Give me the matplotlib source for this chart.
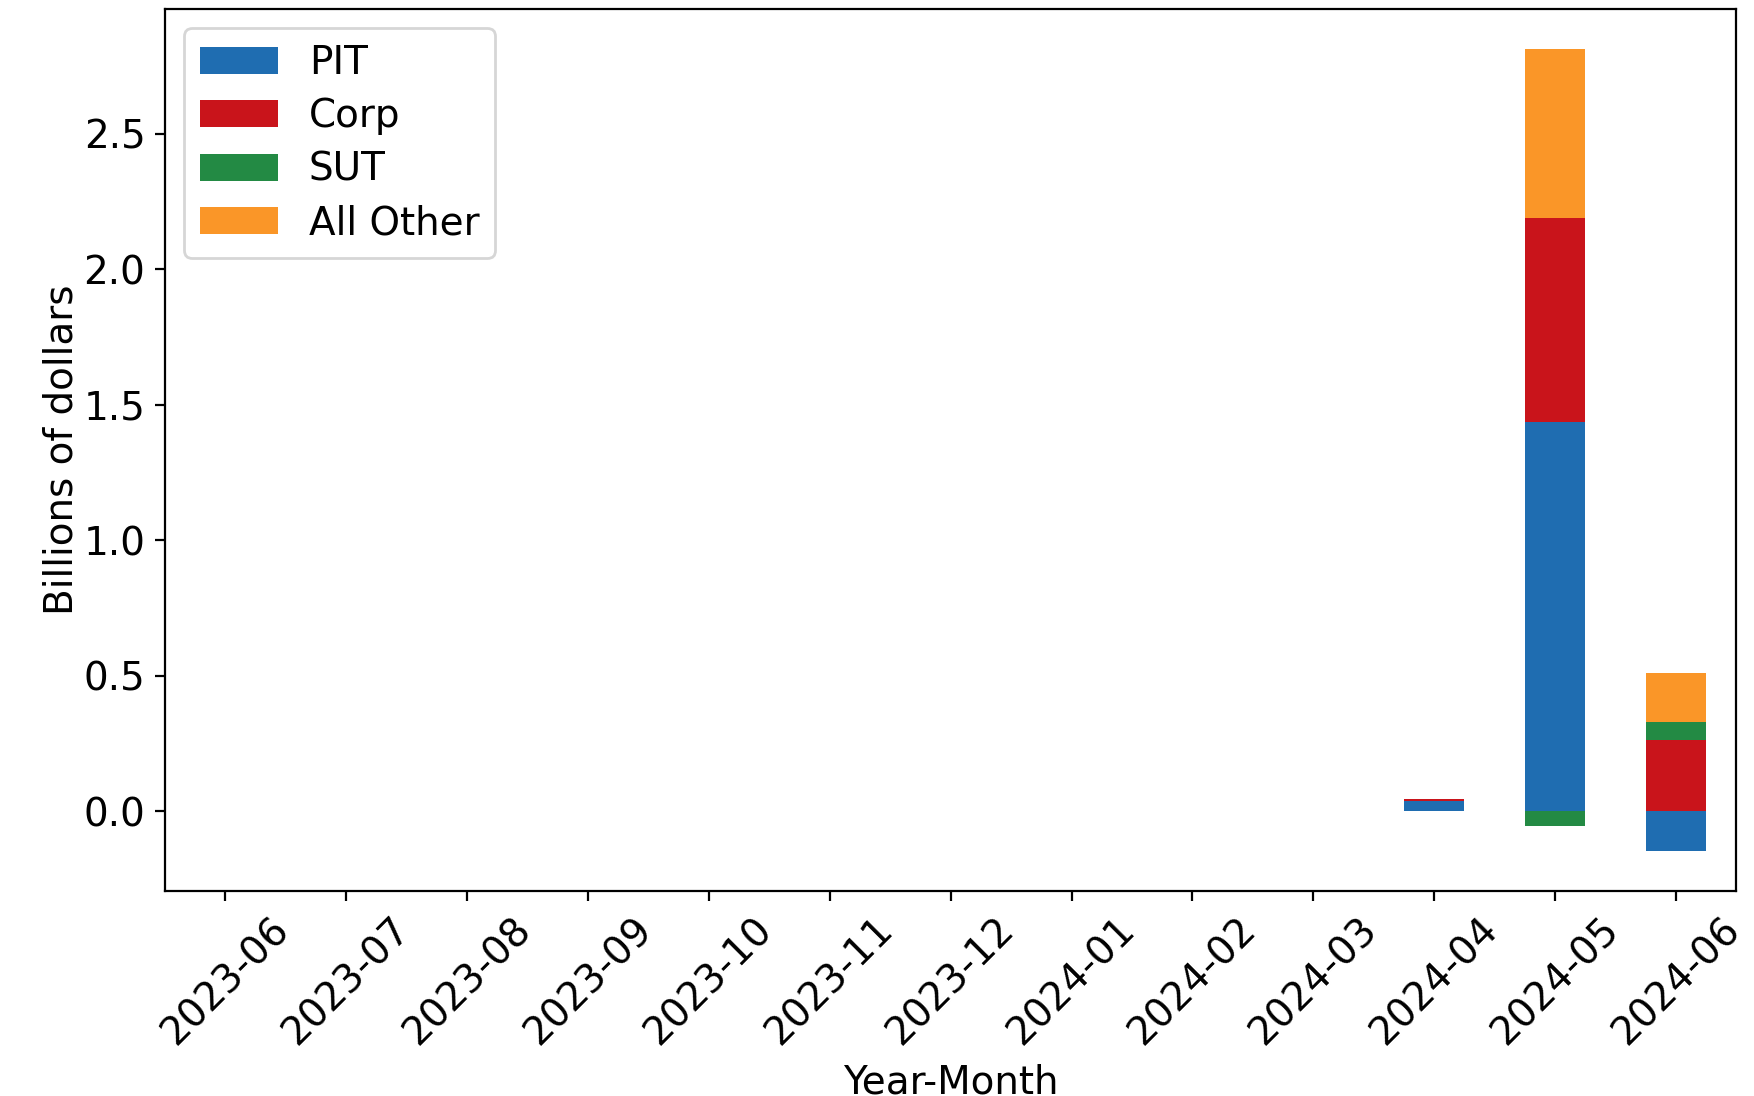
import matplotlib
matplotlib.use("Agg")
import matplotlib.pyplot as plt
import numpy as np
import pandas as pd

# meses del eje x
months = ["2023-06", "2023-07", "2023-08", "2023-09", "2023-10", "2023-11",
          "2023-12", "2024-01", "2024-02", "2024-03", "2024-04", "2024-05",
          "2024-06"]

# valores en miles de millones de dolares
pit = [0, 0, 0, 0, 0, 0, 0, 0, 0, 0, 0.040, 1.435, -0.146]
corp = [0, 0, 0, 0, 0, 0, 0, 0, 0, 0, 0.006, 0.754, 0.264]
sut = [0, 0, 0, 0, 0, 0, 0, 0, 0, 0, 0.0, -0.053, 0.064]
other = [0, 0, 0, 0, 0, 0, 0, 0, 0, 0, 0.0, 0.624, 0.183]

colors = ["#1f6db1", "#c9141b", "#238a44", "#fa9628"]

plt.rcParams["font.size"] = 14

df = pd.DataFrame({"PIT": pit, "Corp": corp, "SUT": sut, "All Other": other},
                  index=months)

fig = plt.figure(figsize=(8.77, 5.48), dpi=200)
ax = fig.add_axes([0.094, 0.187, 0.896, 0.805])
df.plot(kind="bar", stacked=True, color=colors, ax=ax, rot=45, width=0.5)

ax.set_xlabel("Year-Month")
ax.set_ylabel("Billions of dollars", labelpad=1)
ax.legend(loc="upper left", labelspacing=0.4)

fig.savefig("out.png", dpi=200)
